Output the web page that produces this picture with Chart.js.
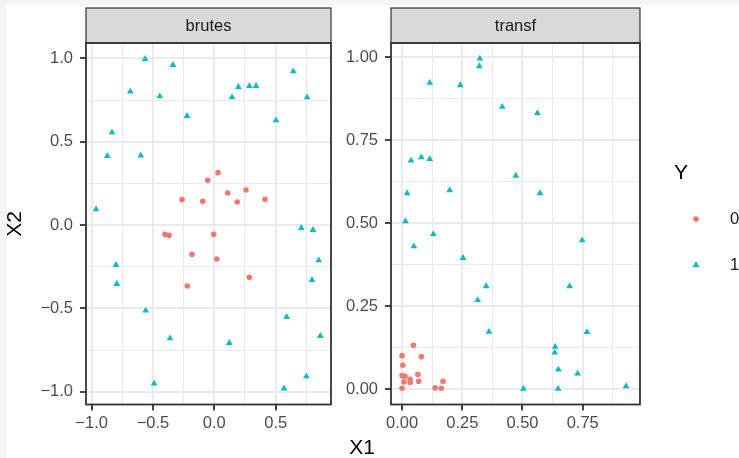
<!DOCTYPE html>
<html>
<head>
<meta charset="utf-8">
<script src="https://cdn.jsdelivr.net/npm/chart.js@4/dist/chart.umd.min.js"></script>
<style>
  html, body { margin: 0; padding: 0; width: 739px; height: 458px; overflow: hidden; background: #F5F5F5; }
  #sheet { position: absolute; left: 7px; top: 5px; right: 0; bottom: 0; background: #FFFFFF; }
  canvas { position: absolute; left: 0; top: 0; }
</style>
</head>
<body>
<div id="sheet"></div>
<canvas id="brutes" width="739" height="458"></canvas>
<canvas id="transf" width="739" height="458"></canvas>
<script>
// ---- facet "brutes" : raw coordinates ----
const brutesX1_Y0 = [0.030, -0.054, 0.109, 0.258, -0.263, -0.095, 0.187, 0.413, -0.402, -0.369, -0.005, -0.182, 0.020, 0.285, -0.220];
const brutesX2_Y0 = [0.314, 0.268, 0.192, 0.210, 0.152, 0.142, 0.138, 0.154, -0.056, -0.062, -0.056, -0.176, -0.204, -0.314, -0.366];
const brutesX1_Y1 = [-0.565, -0.337, -0.685, -0.445, 0.196, 0.285, 0.340, 0.144, 0.644, 0.756, -0.222, 0.503, -0.834, -0.872, -0.600,
                     -0.964, 0.709, 0.804, 0.851, -0.801, 0.796, -0.795, -0.559, 0.590, 0.864, -0.361, 0.122, 0.750, -0.491, 0.568];
const brutesX2_Y1 = [0.996, 0.960, 0.800, 0.772, 0.828, 0.834, 0.834, 0.766, 0.922, 0.766, 0.654, 0.628, 0.556, 0.414, 0.416,
                     0.094, -0.018, -0.030, -0.212, -0.240, -0.330, -0.354, -0.514, -0.552, -0.666, -0.680, -0.708, -0.908, -0.952, -0.982];

// ---- facet "transf" : transformed coordinates ----
const transfX1_Y0 = [0.047, 0.000, 0.080, 0.003, 0.000, 0.012, 0.066, 0.033, 0.034, 0.008, 0.069, 0.170, 0.000, 0.137, 0.163];
const transfX2_Y0 = [0.132, 0.101, 0.098, 0.072, 0.041, 0.039, 0.045, 0.030, 0.020, 0.022, 0.024, 0.024, 0.003, 0.004, 0.003];
const transfX1_Y1 = [0.323, 0.321, 0.115, 0.242, 0.416, 0.562, 0.037, 0.080, 0.115, 0.472, 0.021, 0.198, 0.573, 0.014, 0.130,
                     0.049, 0.748, 0.253, 0.349, 0.696, 0.314, 0.361, 0.768, 0.636, 0.634, 0.649, 0.729, 0.504, 0.648, 0.930];
const transfX2_Y1 = [0.995, 0.972, 0.922, 0.915, 0.850, 0.831, 0.688, 0.698, 0.693, 0.642, 0.590, 0.599, 0.590, 0.505, 0.467,
                     0.430, 0.448, 0.395, 0.310, 0.310, 0.268, 0.173, 0.172, 0.128, 0.110, 0.059, 0.047, 0.001, 0.001, 0.009];

// ---- axis breaks and labels ----
const brutesXBreaks = [-1.0, -0.5, 0.0, 0.5];
const brutesXLabels = ['\u22121.0', '\u22120.5', '0.0', '0.5'];
const brutesXMinor  = [-0.75, -0.25, 0.25, 0.75];
const brutesYBreaks = [-1.0, -0.5, 0.0, 0.5, 1.0];
const brutesYLabels = ['\u22121.0', '\u22120.5', '0.0', '0.5', '1.0'];
const brutesYMinor  = [-0.75, -0.25, 0.25, 0.75];
const transfXBreaks = [0.00, 0.25, 0.50, 0.75];
const transfXLabels = ['0.00', '0.25', '0.50', '0.75'];
const transfXMinor  = [0.125, 0.375, 0.625, 0.875];
const transfYBreaks = [0.00, 0.25, 0.50, 0.75, 1.00];
const transfYLabels = ['0.00', '0.25', '0.50', '0.75', '1.00'];
const transfYMinor  = [0.125, 0.375, 0.625, 0.875];

const facetNames = ['brutes', 'transf'];
const classLevels = ['0', '1'];

const COL0 = '#F8766D';
const COL1 = '#00BFC4';
const R_CIRCLE = 2.8;
const R_TRIANGLE = 3.9;
const FONT = '"Liberation Sans", Arial, Helvetica, sans-serif';

Chart.defaults.font.family = FONT;

function pts(xs, ys) { return xs.map((x, i) => ({ x: x, y: ys[i] })); }

function axis(breaks, labels, minor, min, max, isY) {
  const all = breaks.concat(minor).sort((a, b) => a - b);
  const isMajor = v => breaks.some(b => Math.abs(b - v) < 1e-9);
  return {
    type: 'linear',
    position: isY ? 'left' : 'bottom',
    min: min, max: max,
    afterBuildTicks: s => { s.ticks = all.map(v => ({ value: v })); },
    afterFit: s => { if (isY) s.width = 60; else s.height = 30; },
    border: { display: false },
    grid: {
      color: '#EBEBEB',
      lineWidth: c => (c.tick && isMajor(c.tick.value)) ? 2 : 1,
      drawTicks: true,
      tickLength: 6,
      tickColor: c => (c.tick && isMajor(c.tick.value)) ? '#333333' : 'rgba(0,0,0,0)',
      tickWidth: 1.8
    },
    ticks: {
      autoSkip: false, maxRotation: 0, minRotation: 0,
      padding: isY ? 7 : 3,
      color: '#4D4D4D',
      font: { family: FONT, size: 16.5 },
      callback: v => {
        const i = breaks.findIndex(b => Math.abs(b - v) < 1e-9);
        return i >= 0 ? labels[i] : '';
      }
    }
  };
}

// strip + panel border drawn on top of each facet
const facetFrame = {
  id: 'facetFrame',
  afterDraw(chart, args, opts) {
    const ctx = chart.ctx, a = chart.chartArea;
    ctx.save();
    // strip
    ctx.fillStyle = '#D9D9D9';
    ctx.fillRect(a.left, 8, a.right - a.left, a.top - 8);
    ctx.strokeStyle = '#333333';
    ctx.lineWidth = 1.2;
    ctx.strokeRect(a.left, 8, a.right - a.left, a.top - 8);
    ctx.fillStyle = '#1A1A1A';
    ctx.font = '16.5px ' + FONT;
    ctx.textAlign = 'center';
    ctx.textBaseline = 'middle';
    ctx.fillText(opts.label, (a.left + a.right) / 2, (8 + a.top) / 2 + 1);
    // panel border
    ctx.lineWidth = 1.8;
    ctx.strokeRect(a.left, a.top, a.right - a.left, a.bottom - a.top);
    ctx.restore();
  }
};

// shared axis titles and legend
const sharedGuides = {
  id: 'sharedGuides',
  afterDraw(chart) {
    const ctx = chart.ctx;
    ctx.save();
    ctx.fillStyle = '#000000';
    ctx.font = '21px ' + FONT;
    ctx.textAlign = 'center';
    ctx.textBaseline = 'middle';
    ctx.fillText('X1', 362, 448);
    ctx.save();
    ctx.translate(15, 224);
    ctx.rotate(-Math.PI / 2);
    ctx.fillText('X2', 0, 0);
    ctx.restore();
    // legend
    ctx.fillText('Y', 681, 173);
    ctx.fillStyle = COL0;
    Chart.helpers.drawPoint(ctx, { pointStyle: 'circle', radius: R_CIRCLE, borderWidth: 0 }, 696, 219);
    ctx.fillStyle = COL1;
    Chart.helpers.drawPoint(ctx, { pointStyle: 'triangle', radius: R_TRIANGLE, borderWidth: 0 }, 696, 265);
    ctx.fillStyle = '#1A1A1A';
    ctx.font = '16.5px ' + FONT;
    ctx.textAlign = 'left';
    ctx.fillText(classLevels[0], 730, 219);
    ctx.fillText(classLevels[1], 730, 265);
    ctx.restore();
  }
};

function panel(id, name, d0, d1, xAxis, yAxis, padLeft, padRight, extra) {
  return new Chart(document.getElementById(id), {
    type: 'scatter',
    data: {
      datasets: [
        { label: classLevels[0], data: d0, pointStyle: 'circle', pointRadius: R_CIRCLE,
          backgroundColor: COL0, borderWidth: 0, pointBorderWidth: 0 },
        { label: classLevels[1], data: d1, pointStyle: 'triangle', pointRadius: R_TRIANGLE,
          backgroundColor: COL1, borderWidth: 0, pointBorderWidth: 0 }
      ]
    },
    options: {
      responsive: false,
      animation: false,
      devicePixelRatio: 1,
      events: [],
      layout: { padding: { left: padLeft, right: padRight, top: 43, bottom: 23.5 } },
      plugins: {
        legend: { display: false },
        tooltip: { enabled: false },
        title: { display: false },
        facetFrame: { label: name }
      },
      scales: { x: xAxis, y: yAxis }
    },
    plugins: extra ? [facetFrame, sharedGuides] : [facetFrame]
  });
}

panel('brutes', facetNames[0],
  pts(brutesX1_Y0, brutesX2_Y0), pts(brutesX1_Y1, brutesX2_Y1),
  axis(brutesXBreaks, brutesXLabels, brutesXMinor, -1.046, 0.951, false),
  axis(brutesYBreaks, brutesYLabels, brutesYMinor, -1.077, 1.092, true),
  26, 408, false);

panel('transf', facetNames[1],
  pts(transfX1_Y0, transfX2_Y0), pts(transfX1_Y1, transfX2_Y1),
  axis(transfXBreaks, transfXLabels, transfXMinor, -0.046, 0.988, false),
  axis(transfYBreaks, transfYLabels, transfYMinor, -0.046, 1.042, true),
  331, 99, true);
</script>
</body>
</html>
